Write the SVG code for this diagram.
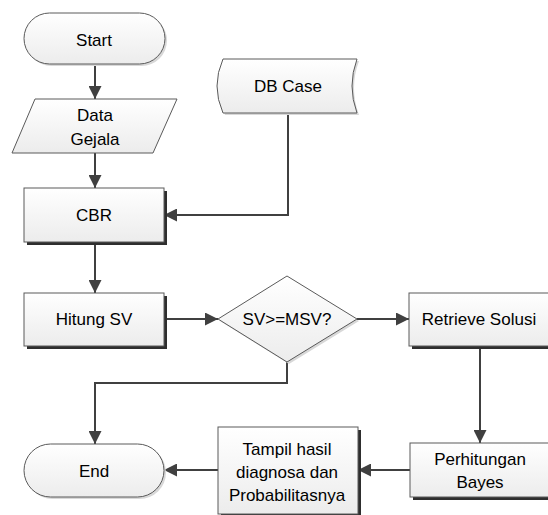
<svg xmlns="http://www.w3.org/2000/svg" width="548" height="515" viewBox="0 0 548 515">
<defs>
<linearGradient id="g" x1="0" y1="0" x2="0" y2="1">
<stop offset="0" stop-color="#ffffff"/>
<stop offset="1" stop-color="#ececec"/>
</linearGradient>
<marker id="arr" markerUnits="userSpaceOnUse" markerWidth="13" markerHeight="13" refX="13" refY="6.5" orient="auto">
<path d="M0,0 L13,6.5 L0,13 Z" fill="#404040"/>
</marker>
</defs>
<style>
.shape{fill:url(#g);stroke:#5a5a5a;stroke-width:1}
.shadow{fill:#2e2e2e}
.soft{fill:#d8d8d8}
.txt{font-family:"Liberation Sans",Arial,sans-serif;font-size:17px;fill:#000;text-anchor:middle;dominant-baseline:central}
.conn{fill:none;stroke:#404040;stroke-width:2}
</style>
<rect width="548" height="515" fill="#fff"/>
<g id="connectors">
<path class="conn" d="M95,64 L95,99" marker-end="url(#arr)"/>
<path class="conn" d="M95,153 L95,188" marker-end="url(#arr)"/>
<path class="conn" d="M288,113 L288,215 L164,215" marker-end="url(#arr)"/>
<path class="conn" d="M95,242 L95,293" marker-end="url(#arr)"/>
<path class="conn" d="M164,319 L218,319" marker-end="url(#arr)"/>
<path class="conn" d="M357,319 L409,319" marker-end="url(#arr)"/>
<path class="conn" d="M480,346 L480,443" marker-end="url(#arr)"/>
<path class="conn" d="M410,470 L358,470" marker-end="url(#arr)"/>
<path class="conn" d="M218,470 L164,470" marker-end="url(#arr)"/>
<path class="conn" d="M287,362 L287,383 L95,383 L95,444" marker-end="url(#arr)"/>
</g>
<g id="start">
<rect class="soft" x="26" y="15" width="141" height="51" rx="25.5"/>
<rect class="shape" x="24" y="13" width="141" height="51" rx="25.5"/>
<text class="txt" x="94" y="40">Start</text>
</g>
<g id="data-gejala">
<path class="shape" d="M35,99 L177,99 L153,153 L12,153 Z"/>
<text class="txt" x="95" y="115">Data</text>
<text class="txt" x="95" y="139">Gejala</text>
</g>
<g id="db-case">
<path class="soft" d="M225,61 L359,61 Q349,88 359,115 L225,115 Q213,88 225,61 Z"/>
<path class="shape" d="M223,59 L357,59 Q347,86 357,113 L223,113 Q211,86 223,59 Z"/>
<text class="txt" x="288" y="86">DB Case</text>
</g>
<g id="cbr">
<rect class="shadow" x="27" y="191" width="140" height="54"/>
<rect class="shape" x="24" y="188" width="140" height="54"/>
<text class="txt" x="94" y="215">CBR</text>
</g>
<g id="hitung-sv">
<rect class="shadow" x="27" y="296" width="140" height="53"/>
<rect class="shape" x="24" y="293" width="140" height="53"/>
<text class="txt" x="94" y="319">Hitung SV</text>
</g>
<g id="decision">
<path class="soft" d="M289,278 L359,321 L289,364 L220,321 Z"/>
<path class="shape" d="M287,276 L357,319 L287,362 L218,319 Z"/>
<text class="txt" x="287" y="319">SV&gt;=MSV?</text>
</g>
<g id="retrieve">
<rect class="shadow" x="412" y="296" width="140" height="53"/>
<rect class="shape" x="409" y="293" width="140" height="53"/>
<text class="txt" x="479" y="319">Retrieve Solusi</text>
</g>
<g id="perhitungan">
<rect class="shadow" x="413" y="446" width="140" height="54"/>
<rect class="shape" x="410" y="443" width="140" height="54"/>
<text class="txt" x="480" y="459">Perhitungan</text>
<text class="txt" x="480" y="482">Bayes</text>
</g>
<g id="tampil">
<rect class="shadow" x="221" y="430" width="140" height="87"/>
<rect class="shape" x="218" y="427" width="140" height="87"/>
<text class="txt" x="287" y="449">Tampil hasil</text>
<text class="txt" x="287" y="472">diagnosa dan</text>
<text class="txt" x="287" y="495">Probabilitasnya</text>
</g>
<g id="end">
<rect class="soft" x="26" y="446" width="140" height="53" rx="26.5"/>
<rect class="shape" x="24" y="444" width="140" height="53" rx="26.5"/>
<text class="txt" x="94" y="471">End</text>
</g>
</svg>
